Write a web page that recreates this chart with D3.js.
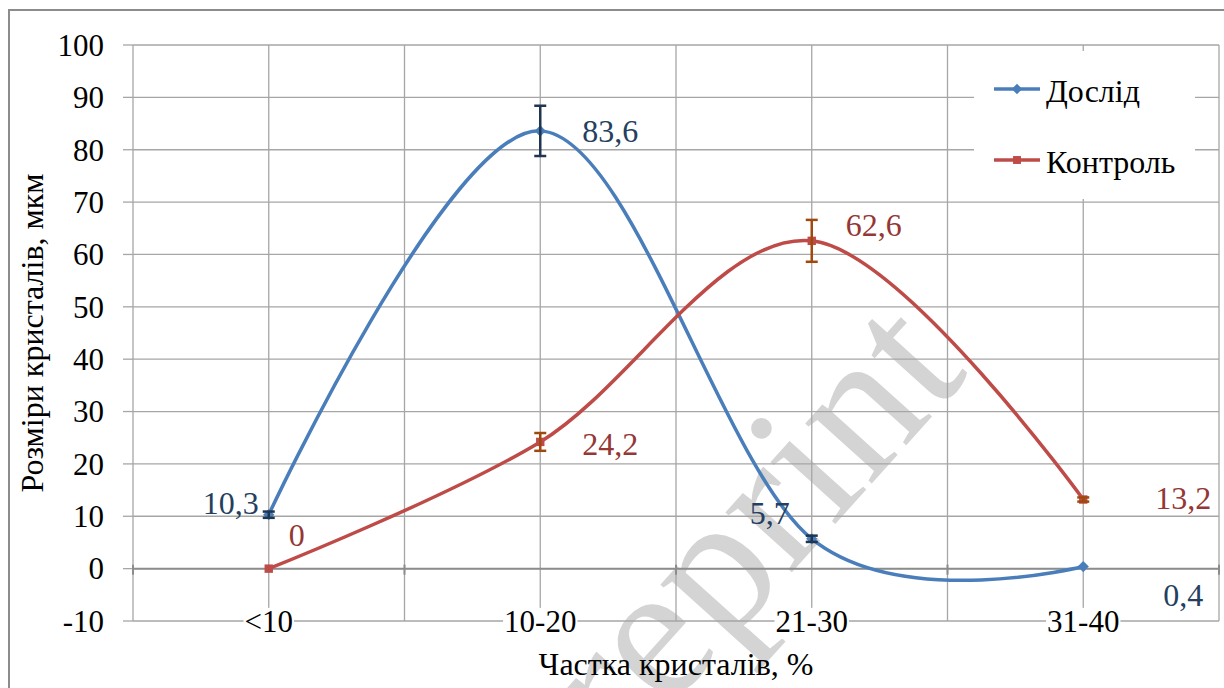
<!DOCTYPE html>
<html><head><meta charset="utf-8">
<script src="https://cdn.jsdelivr.net/npm/d3@7"></script>
</head><body style="margin:0;background:#fff"><svg id="c" width="1224" height="688" style="display:block"></svg>
<script>
const categories = ["<10", "10-20", "21-30", "31-40"];
const seriesNames = ["Дослід", "Контроль"];
const doslid = [10.3, 83.6, 5.7, 0.4];
const kontrol = [0, 24.2, 62.6, 13.2];
const doslidErr = [0.6, 4.8, 0.6, 0];
const kontrolErr = [0, 1.7, 4.0, 0.4];
const doslidLabels = ["10,3", "83,6", "5,7", "0,4"];
const kontrolLabels = ["0", "24,2", "62,6", "13,2"];
const yTicks = [-10, 0, 10, 20, 30, 40, 50, 60, 70, 80, 90, 100];

const FONT = '"Liberation Serif"';
const svg = d3.select("#c");
const L = 133, R = 1219, T = 45, B = 621;
const x = d3.scaleBand().domain(categories).range([L, R]);
const xc = d => x(d) + x.bandwidth() / 2;
const y = d3.scaleLinear().domain([-10, 100]).range([B, T]);

// outer border
svg.append("rect").attr("x", 9).attr("y", 10).attr("width", 1230).attr("height", 700)
  .attr("fill", "none").attr("stroke", "#8c8c8c").attr("stroke-width", 2);

// watermark
const wm = svg.append("g").attr("transform", "translate(666,712) rotate(-48)");
const wt = wm.append("text").attr("font-size", 195).attr("fill", "#d4d4d4").style("font-family", FONT).text("Preprint");
wt.attr("x", -wt.node().getSubStringLength(0, 2));

const grid = svg.append("g").attr("stroke", "#a6a6a6").attr("stroke-width", 1.3);
yTicks.forEach(t => grid.append("line").attr("x1", L).attr("x2", R).attr("y1", y(t)).attr("y2", y(t)));
yTicks.forEach(t => grid.append("line").attr("x1", L - 10).attr("x2", L).attr("y1", y(t)).attr("y2", y(t)));
categories.forEach(c => grid.append("line").attr("x1", xc(c)).attr("x2", xc(c)).attr("y1", T).attr("y2", B));
const bounds = categories.map(c => x(c)).concat([R]);
bounds.forEach(b => grid.append("line").attr("x1", b).attr("x2", b).attr("y1", T).attr("y2", B));

// x axis at zero
const ax = svg.append("g").attr("stroke", "#8c8c8c").attr("stroke-width", 2);
ax.append("line").attr("x1", L).attr("x2", R).attr("y1", y(0)).attr("y2", y(0));
bounds.forEach(b => ax.append("line").attr("x1", b).attr("x2", b).attr("y1", y(0) - 4).attr("y2", y(0) + 6));

// y tick labels
svg.append("g").selectAll("text").data(yTicks).join("text")
  .style("font-family", FONT)
  .attr("x", 104).attr("y", d => y(d)).attr("dy", "0.35em").attr("text-anchor", "end")
  .attr("font-size", 31).attr("fill", "#000").text(d => d);

// category labels with white backing
const cl = svg.append("g");
categories.forEach(c => {
  const t = cl.append("text").style("font-family", FONT).attr("x", xc(c)).attr("y", B).attr("dy", "0.35em")
    .attr("text-anchor", "middle").attr("font-size", 31).attr("fill", "#000").text(c);
  const bb = t.node().getBBox();
  cl.insert("rect", "text").attr("x", bb.x - 1).attr("y", bb.y + 4).attr("width", bb.width + 2).attr("height", bb.height - 4).attr("fill", "#fff");
});

// axis titles
svg.append("text").style("font-family", FONT).attr("transform", `translate(43,${(T + B) / 2}) rotate(-90)`)
  .attr("text-anchor", "middle").attr("font-size", 32).text("Розміри кристалів, мкм");
svg.append("text").style("font-family", FONT).attr("x", (L + R) / 2).attr("y", 675).attr("text-anchor", "middle")
  .attr("font-size", 32).text("Частка кристалів, %");

const line = d3.line().x((d, i) => xc(categories[i])).y(d => y(d)).curve(d3.curveCardinal.tension(0));

const series = [
  {vals: doslid, err: doslidErr, lab: doslidLabels, col: "#4a7ebb", ecol: "#1f3550", lcol: "#243f60", shape: "diamond"},
  {vals: kontrol, err: kontrolErr, lab: kontrolLabels, col: "#be4b48", ecol: "#a0490f", lcol: "#953735", shape: "square"}
];

series.forEach(s => {
  svg.append("path").datum(s.vals).attr("d", line).attr("fill", "none")
    .attr("stroke", s.col).attr("stroke-width", 3.5);
});
series.forEach(s => {
  const g = svg.append("g");
  s.vals.forEach((v, i) => {
    const cx = xc(categories[i]);
    const sym = d3.symbol().type(s.shape === "diamond" ? d3.symbolDiamond2 : d3.symbolSquare2).size(s.shape === "diamond" ? 80 : 90);
    g.append("path").attr("d", sym()).attr("transform", `translate(${cx},${y(v)})`).attr("fill", s.col);
    const e = s.err[i];
    if (e > 0) {
      const eg = g.append("g").attr("stroke", s.ecol).attr("stroke-width", 2.5);
      eg.append("line").attr("x1", cx).attr("x2", cx).attr("y1", y(v + e)).attr("y2", y(v - e));
      eg.append("line").attr("x1", cx - 6).attr("x2", cx + 6).attr("y1", y(v + e)).attr("y2", y(v + e));
      eg.append("line").attr("x1", cx - 6).attr("x2", cx + 6).attr("y1", y(v - e)).attr("y2", y(v - e));
    }
  });
});

// data labels (offsets relative to point)
const dOff = [[-38, -12], [70, 0], [-42, -26], [100, 28]];
const kOff = [[28, -34], [70, 2], [62, -16], [100, -2]];
[[series[0], dOff], [series[1], kOff]].forEach(([s, off]) => {
  s.vals.forEach((v, i) => {
    svg.append("text").style("font-family", FONT).attr("x", xc(categories[i]) + off[i][0]).attr("y", y(v) + off[i][1])
      .attr("dy", "0.35em").attr("text-anchor", "middle").attr("font-size", 32)
      .attr("fill", s.lcol).text(s.lab[i]);
  });
});

// legend
const lg = svg.append("g");
lg.append("rect").attr("x", 974).attr("y", 51).attr("width", 221).attr("height", 148).attr("fill", "#fff");
seriesNames.forEach((n, i) => {
  const s = series[i];
  const ly = [89, 160][i];
  lg.append("line").attr("x1", 994).attr("x2", 1040).attr("y1", ly).attr("y2", ly).attr("stroke", s.col).attr("stroke-width", 3.5);
  const sym = d3.symbol().type(s.shape === "diamond" ? d3.symbolDiamond2 : d3.symbolSquare2).size(s.shape === "diamond" ? 70 : 80);
  lg.append("path").attr("d", sym()).attr("transform", `translate(1017,${ly})`).attr("fill", s.col);
  lg.append("text").style("font-family", FONT).attr("x", 1046).attr("y", ly + 2).attr("dy", "0.35em").attr("font-size", 32).text(n);
});
</script></body></html>
